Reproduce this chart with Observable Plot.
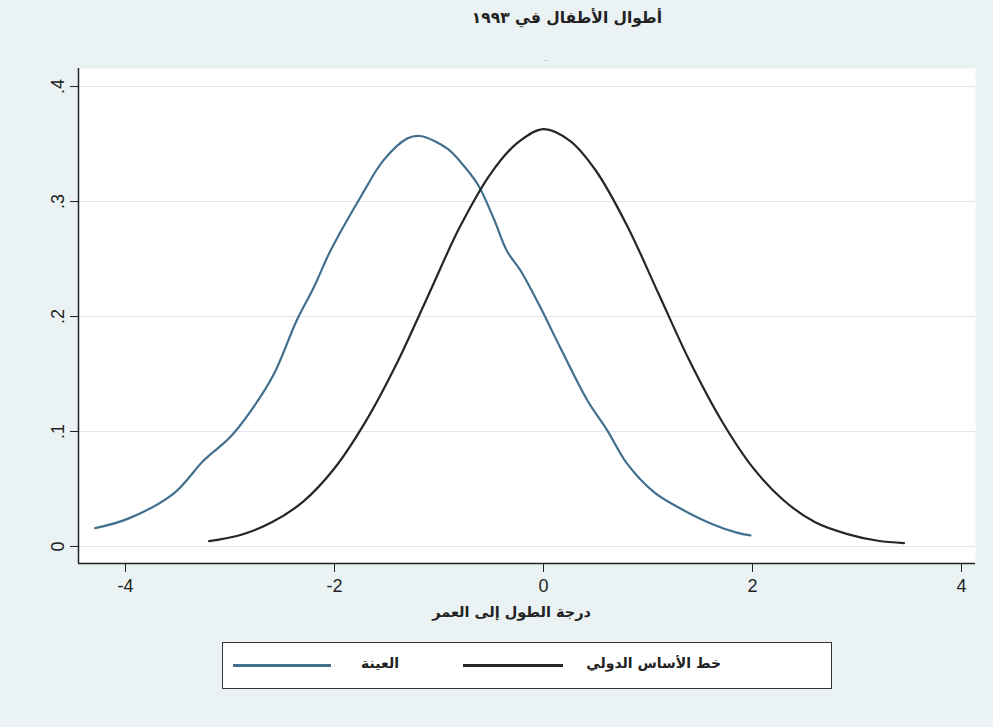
<!DOCTYPE html>
<html>
<head>
<meta charset="utf-8">
<script src="https://cdn.jsdelivr.net/npm/d3@7"></script>
<script src="https://cdn.jsdelivr.net/npm/@observablehq/plot@0.6"></script>
<style>
  html, body { margin: 0; padding: 0; background: #eaf2f3; }
  #page { position: relative; width: 993px; height: 727px; background: #eaf2f3; overflow: hidden; }
  .ar { font-family: "DejaVu Sans", sans-serif; font-weight: bold; color: #222; direction: rtl; position: absolute; white-space: nowrap; }
  #chart { position: absolute; left: 0; top: 0; }
  #legend { position: absolute; left: 222px; top: 642px; width: 610px; height: 47px; box-sizing: border-box; border: 1.5px solid #333; background: #fff; }
  .key { position: absolute; height: 2.5px; top: 21px; }
  .yr { letter-spacing: 4px; }
</style>
</head>
<body>
<div id="page">
  <div id="chart"></div>
  <div class="ar" id="title" style="right:331px; top:9px; font-size:15.5px;">أطوال الأطفال في <span class="yr">١٩٩٣</span></div>
  <div style="position:absolute; left:544px; top:55px; font:9px 'Liberation Sans', sans-serif; color:#9aa;">-</div>
  <div class="ar" id="xtitle" style="right:402px; top:604px; font-size:14.5px;">درجة الطول إلى العمر</div>
  <div id="legend">
    <div class="key" style="left:10px; width:98px; background:#41708f;"></div>
    <div class="ar" style="right:432px; top:12px; font-size:14px;">العينة</div>
    <div class="key" style="left:240px; width:100px; background:#262626;"></div>
    <div class="ar" style="right:110px; top:12px; font-size:14px;">خط الأساس الدولي</div>
  </div>
</div>
<script>
// Height-for-age z-score densities
const sampleX = [-4.29, -3.98, -3.54, -3.25, -3.00, -2.80, -2.58, -2.36, -2.20, -2.04, -1.75, -1.53, -1.30, -1.18, -0.92, -0.79, -0.63, -0.48, -0.35, -0.22, -0.03, 0.16, 0.42, 0.61, 0.80, 1.06, 1.31, 1.60, 1.85, 1.98];
const sampleY = [0.016, 0.024, 0.046, 0.075, 0.095, 0.118, 0.150, 0.197, 0.225, 0.257, 0.304, 0.336, 0.355, 0.357, 0.346, 0.334, 0.315, 0.286, 0.257, 0.240, 0.208, 0.173, 0.127, 0.101, 0.072, 0.047, 0.033, 0.020, 0.012, 0.0096];

const refX = [-3.20, -2.90, -2.60, -2.30, -2.00, -1.70, -1.40, -1.10, -0.80, -0.50, -0.25, 0.00, 0.25, 0.50, 0.80, 1.10, 1.40, 1.70, 2.00, 2.30, 2.60, 2.90, 3.20, 3.45];
const refY = [0.0046, 0.010, 0.021, 0.039, 0.068, 0.109, 0.160, 0.219, 0.278, 0.325, 0.351, 0.363, 0.353, 0.327, 0.279, 0.220, 0.161, 0.110, 0.069, 0.040, 0.021, 0.011, 0.005, 0.003];

const xTicks = [-4, -2, 0, 2, 4];
const yTicks = [0, 0.1, 0.2, 0.3, 0.4];
const yTickLabels = ["0", ".1", ".2", ".3", ".4"];

const sample = sampleX.map((x, i) => ({x, y: sampleY[i]}));
const reference = refX.map((x, i) => ({x, y: refY[i]}));

const xDomain = [-4.45, 4.134];
const yDomain = [-0.0148, 0.4157];

const chart = Plot.plot({
  width: 993,
  height: 640,
  marginLeft: 78,
  marginRight: 18,
  marginTop: 68,
  marginBottom: 77,
  style: {background: "transparent", fontFamily: "'Liberation Sans', Arial, sans-serif", fontSize: "18px", color: "#222"},
  x: {domain: xDomain},
  y: {domain: yDomain},
  marks: [
    Plot.frame({fill: "white", stroke: "none"}),
    Plot.ruleY(yTicks, {stroke: "#e1e6f1", strokeWidth: 1}),
    Plot.line(sample, {x: "x", y: "y", stroke: "#41708f", strokeWidth: 2.2, curve: "catmull-rom"}),
    Plot.line(reference, {x: "x", y: "y", stroke: "#262626", strokeWidth: 2.2, curve: "catmull-rom"}),
    Plot.ruleX([xDomain[0]], {stroke: "#222", strokeWidth: 1.5}),
    Plot.ruleY([yDomain[0]], {stroke: "#222", strokeWidth: 1.5}),
    Plot.axisX({ticks: xTicks, tickSize: 9, tickPadding: 7, fontSize: 18, label: null, tickFormat: d => String(d).replace("−", "-")}),
    Plot.axisY({ticks: yTicks, tickSize: 8, tickFormat: () => "", label: null}),
    Plot.text(yTicks, {y: d => d, text: (d, i) => yTickLabels[i], frameAnchor: "left", dx: -20, rotate: -90, fontSize: 18, textAnchor: "middle", fill: "#222"})
  ]
});
document.getElementById("chart").appendChild(chart);
</script>
</body>
</html>
